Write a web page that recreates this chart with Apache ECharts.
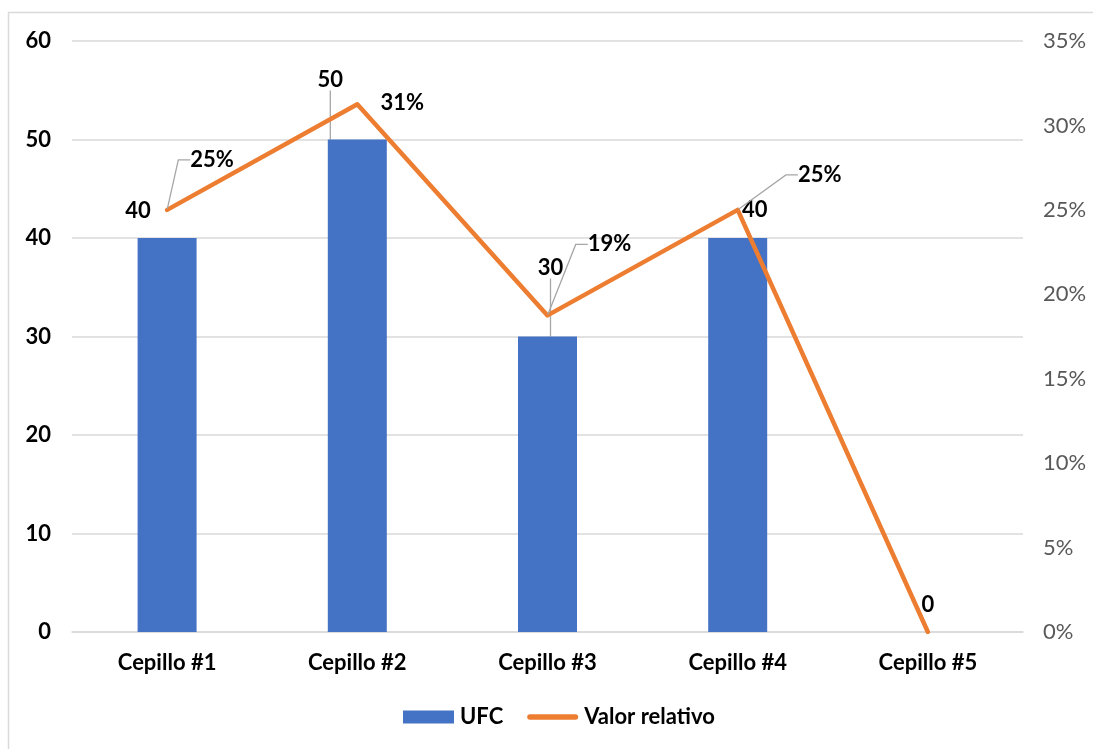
<!DOCTYPE html>
<html>
<head>
<meta charset="utf-8">
<title>UFC por cepillo</title>
<script src="https://cdn.jsdelivr.net/npm/echarts@6/dist/echarts.min.js"></script>
<style>
  html, body { margin: 0; padding: 0; background: #ffffff; }
  #chart { width: 1093px; height: 749px; }
</style>
</head>
<body>
<div id="chart"></div>
<script>
// Colony counts (UFC) per toothbrush and each one's share of the total, in percent
const categories = ['Cepillo #1', 'Cepillo #2', 'Cepillo #3', 'Cepillo #4', 'Cepillo #5'];
const ufcValues = [40, 50, 30, 40, 0];
const relativeValues = [25, 31.25, 18.75, 25, 0];

// Axis ranges
const leftAxisMax = 60;
const leftAxisStep = 10;
const rightAxisMax = 35;
const rightAxisStep = 5;

// Label placement (pixel nudges from the default "top" spot) and which labels get a leader
const barLabelShift = [[-29, -11], [-27, -44], [3, -53], [17, -12], [0, -11]];
const barLabelLeader = [false, true, true, false, false];
const lineLabelShift = [[45, -33], [45, 16], [62, -54], [82, -18], [0, 0]];
const lineLabelLeader = [true, false, true, true, false];
const lineLabelVisible = [true, true, true, true, false];

const FONT = 'Lato, "Open Sans", sans-serif';
const FONT_SIZE = 22;
const BLUE = '#4472C4';
const ORANGE = '#ED7D31';
const GRID = '#D9D9D9';
const LEADER = '#A6A6A6';

const chart = echarts.init(document.getElementById('chart'), null, { renderer: 'canvas' });

const barData = ufcValues.map((v, i) => ({
  value: v,
  labelLine: { show: barLabelLeader[i] }
}));

const lineData = relativeValues.map((v, i) => ({
  value: v,
  label: { show: lineLabelVisible[i] },
  labelLine: { show: lineLabelLeader[i] }
}));

const option = {
  backgroundColor: '#ffffff',
  animation: false,
  textStyle: { fontFamily: FONT },
  graphic: [{
    type: 'rect',
    silent: true,
    z: -10,
    shape: { x: 8.5, y: 12.5, width: 1200, height: 900 },
    style: { fill: 'none', stroke: GRID, lineWidth: 1.5 }
  }],
  grid: { left: 72, right: 70, top: 41, bottom: 117, containLabel: false },
  legend: {
    bottom: 16,
    left: 398,
    itemWidth: 51,
    itemHeight: 13,
    itemGap: 24,
    textStyle: { fontFamily: FONT, fontWeight: 'bold', fontSize: FONT_SIZE, color: '#000000', padding: [0, 0, 0, 1] },
    data: [
      { name: 'UFC', icon: 'rect' },
      { name: 'Valor relativo', icon: 'path://M3,0 H53 A3,3 0 0 1 53,6 H3 A3,3 0 0 1 3,0 Z' }
    ]
  },
  xAxis: {
    type: 'category',
    data: categories,
    axisTick: { show: false },
    axisLine: { show: true, lineStyle: { color: GRID, width: 1.5 } },
    axisLabel: { color: '#000000', fontWeight: 'bold', fontSize: FONT_SIZE, fontFamily: FONT, margin: 20 }
  },
  yAxis: [
    {
      type: 'value',
      min: 0,
      max: leftAxisMax,
      interval: leftAxisStep,
      axisLine: { show: false },
      axisTick: { show: false },
      splitLine: { show: true, lineStyle: { color: GRID, width: 1.5 } },
      axisLabel: { color: '#000000', fontWeight: 'bold', fontSize: FONT_SIZE, fontFamily: FONT, margin: 21 }
    },
    {
      type: 'value',
      min: 0,
      max: rightAxisMax,
      interval: rightAxisStep,
      alignTicks: false,
      axisLine: { show: false },
      axisTick: { show: false },
      splitLine: { show: false },
      axisLabel: { color: '#595959', fontSize: FONT_SIZE, fontFamily: FONT, margin: 20, formatter: '{value}%' }
    }
  ],
  series: [
    {
      name: 'UFC',
      type: 'bar',
      yAxisIndex: 0,
      barWidth: 59,
      data: barData,
      itemStyle: { color: BLUE },
      label: {
        show: true,
        position: 'top',
        color: '#000000',
        fontWeight: 'bold',
        fontSize: FONT_SIZE,
        fontFamily: FONT
      },
      labelLine: { show: true, length2: 0, lineStyle: { color: LEADER, width: 1.3 } },
      labelLayout: function (p) {
        const s = barLabelShift[p.dataIndex];
        return { dx: s[0], dy: s[1] };
      }
    },
    {
      name: 'Valor relativo',
      type: 'line',
      yAxisIndex: 1,
      data: lineData,
      symbol: 'circle',
      symbolSize: 2,
      showSymbol: true,
      itemStyle: { color: ORANGE },
      lineStyle: { color: ORANGE, width: 4.5, cap: 'round', join: 'round' },
      label: {
        show: true,
        position: 'top',
        color: '#000000',
        fontWeight: 'bold',
        fontSize: FONT_SIZE,
        fontFamily: FONT,
        formatter: function (p) { return Math.round(p.value) + '%'; }
      },
      labelLine: { show: true, length2: 12, minTurnAngle: 0, lineStyle: { color: LEADER, width: 1.3 } },
      labelLayout: function (p) {
        const s = lineLabelShift[p.dataIndex];
        return { dx: s[0], dy: s[1] };
      }
    }
  ]
};

chart.setOption(option);
</script>
</body>
</html>
